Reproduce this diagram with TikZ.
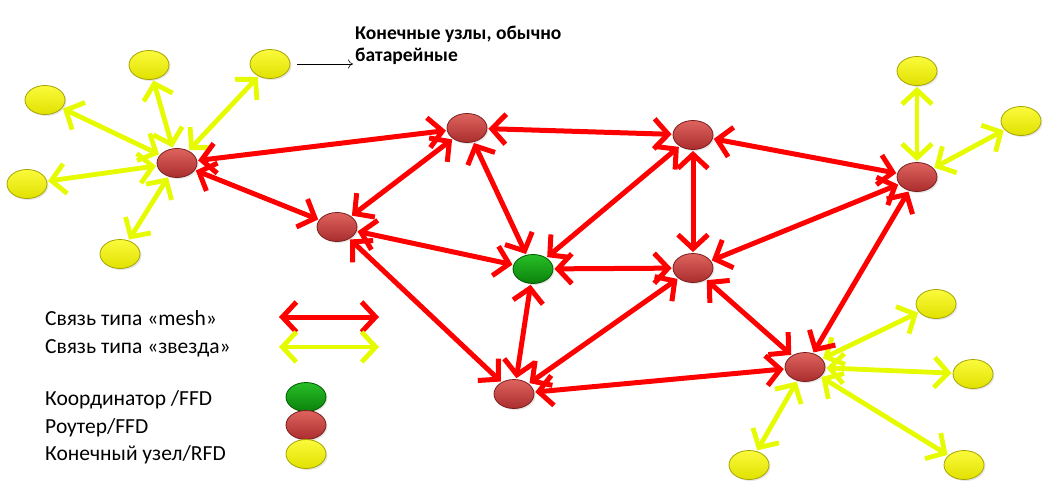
\documentclass[tikz,border=0pt]{standalone}
\usepackage{fontspec}
\setmainfont{Carlito}
\usetikzlibrary{arrows.meta,shapes.geometric,shadows}
\definecolor{meshred}{RGB}{255,0,0}
\definecolor{staryel}{RGB}{230,250,0}
\definecolor{rtop}{RGB}{222,100,95}
\definecolor{rbot}{RGB}{170,45,45}
\definecolor{redge}{RGB}{125,30,30}
\definecolor{gtop}{RGB}{40,190,40}
\definecolor{gbot}{RGB}{10,130,10}
\definecolor{gedge}{RGB}{0,90,0}
\definecolor{ytop}{RGB}{250,250,60}
\definecolor{ybot}{RGB}{225,225,0}
\definecolor{yedge}{RGB}{165,165,0}
\begin{document}
\begin{tikzpicture}[x=1pt,y=-1pt,
  nd/.style={ellipse, minimum width=40pt, minimum height=29pt, inner sep=0pt, line width=0.8pt,
    drop shadow={opacity=0.2, shadow xshift=1.5pt, shadow yshift=-1.5pt}},
  router/.style={nd, top color=rtop, bottom color=rbot, draw=redge},
  coord/.style={nd, top color=gtop, bottom color=gbot, draw=gedge},
  endnode/.style={nd, top color=ytop, bottom color=ybot, draw=yedge},
  tipbarb/.tip={Straight Barb[length=14pt, width=30pt]},
  mesh/.style={draw=meshred, line width=5pt, tipbarb-tipbarb, shorten <=1pt, shorten >=1pt},
  star/.style={draw=staryel, line width=4.8pt, tipbarb-tipbarb, shorten <=1pt, shorten >=1pt},
  lbl/.style={anchor=base west, font=\fontsize{21.5}{26}\selectfont, inner sep=0pt},
  note/.style={anchor=base west, font=\bfseries\fontsize{19.5}{22}\selectfont, inner sep=0pt, align=left}
]
\useasboundingbox (0,0) rectangle (1056,498);

% end nodes
\node[endnode] (Y2) at (149,65) {};
\node[endnode] (Y3) at (270,64) {};
\node[endnode] (Y4) at (45,100) {};
\node[endnode] (Y5) at (27,184) {};
\node[endnode] (Y6) at (120,254) {};
\node[endnode] (Y7) at (917,71) {};
\node[endnode] (Y8) at (1021,121) {};
\node[endnode] (Y9) at (936,304) {};
\node[endnode] (Y10) at (973,374) {};
\node[endnode] (Y11) at (749,465) {};
\node[endnode] (Y12) at (964,465) {};

% routers and coordinator
\node[router] (R1) at (177,163) {};
\node[router] (R2) at (337,227) {};
\node[router] (R3) at (467,128) {};
\node[router] (R4) at (693,135) {};
\node[router] (R5) at (917,177) {};
\node[router] (R6) at (693,268) {};
\node[router] (R7) at (514,394) {};
\node[router] (R8) at (805,367) {};
\node[coord] (G) at (533,269) {};

% star links
\foreach \a in {Y2,Y3,Y4,Y5,Y6} \draw[star] (R1) -- (\a);
\foreach \a in {Y7,Y8} \draw[star] (R5) -- (\a);
\foreach \a in {Y9,Y10,Y11,Y12} \draw[star] (R8) -- (\a);

% mesh links
\draw[mesh] (R1) -- (R3);
\draw[mesh] (R1) -- (R2);
\draw[mesh] (R2) -- (R3);
\draw[mesh] (R2) -- (G);
\draw[mesh] (R2) -- (R7);
\draw[mesh] (R3) -- (R4);
\draw[mesh] (R3) -- (G);
\draw[mesh] (R4) -- (G);
\draw[mesh] (R4) -- (R6);
\draw[mesh] (R4) -- (R5);
\draw[mesh] (R6) -- (G);
\draw[mesh] (R6) -- (R5);
\draw[mesh] (R6) -- (R8);
\draw[mesh] (R6) -- (R7);
\draw[mesh] (G) -- (R7);
\draw[mesh] (R7) -- (R8);
\draw[mesh] (R5) -- (R8);

% annotation
\coordinate (NA) at (353,64);
\draw[-{To[length=5pt,width=9pt]}, line width=0.6pt] ([xshift=7pt]Y3.east) -- (NA);
\node[note] (NT) at (355,61) {Конечные узлы, обычно\\батарейные};

% legend
\node[lbl] (L1) at (45,325) {Связь типа «mesh»};
\node[lbl] (L2) at (45,353) {Связь типа «звезда»};
\node[lbl] (L3) at (45,405) {Координатор /FFD};
\node[lbl] (L4) at (45,433) {Роутер/FFD};
\node[lbl] (L5) at (45,460) {Конечный узел/RFD};
\coordinate (M1) at (278,317); \coordinate (M2) at (380,317);
\coordinate (S1) at (278,347); \coordinate (S2) at (380,347);
\draw[mesh] (M1) -- (M2);
\draw[star] (S1) -- (S2);
\node[coord] (LG) at (306,397) {};
\node[router] (LR) at (306,425) {};
\node[endnode] (LY) at (306,454) {};
\end{tikzpicture}
\end{document}
